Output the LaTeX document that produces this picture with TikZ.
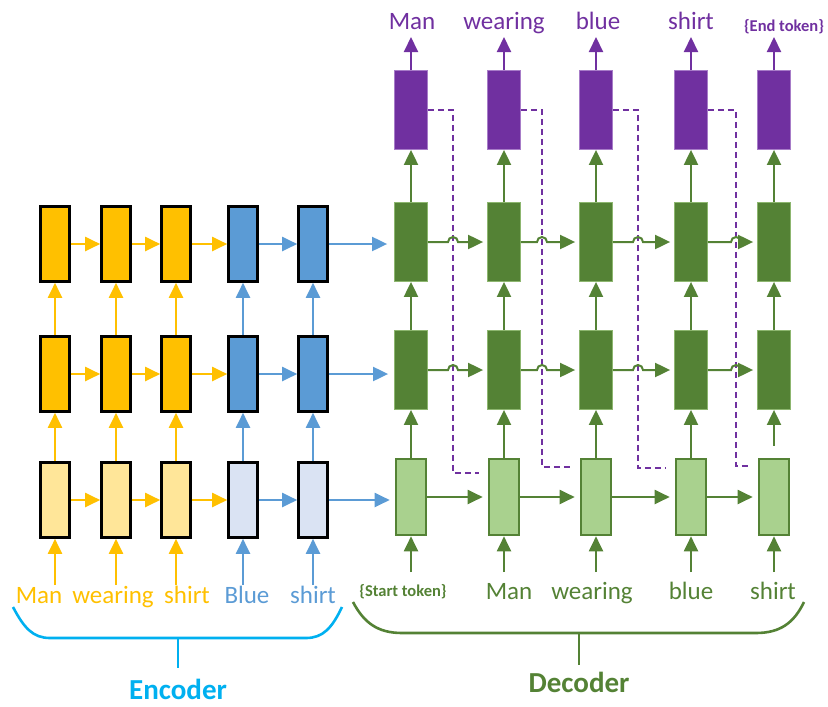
\documentclass[tikz,border=0pt]{standalone}
\usepackage{fontspec}
\setmainfont{Carlito}
\usetikzlibrary{arrows.meta,calc}
\definecolor{encY}{HTML}{FFC000}
\definecolor{encYl}{HTML}{FFE699}
\definecolor{encB}{HTML}{5B9BD5}
\definecolor{encBl}{HTML}{DAE3F3}
\definecolor{decG}{HTML}{548235}
\definecolor{decGl}{HTML}{A9D18E}
\definecolor{decGe}{HTML}{8DB66F}
\definecolor{outP}{HTML}{7030A0}
\definecolor{outPe}{HTML}{A77CC8}
\definecolor{brC}{HTML}{00B0F0}
\begin{document}
\begin{tikzpicture}[x=1pt,y=-1pt,
  encbox/.style={draw=black,line width=2.6pt,minimum width=29pt,minimum height=75pt,inner sep=0pt},
  decbox/.style={fill=decG,draw=decGe,line width=0.8pt,minimum width=33pt,minimum height=79pt,inner sep=0pt},
  decin/.style={fill=decGl,draw=decG,line width=2.6pt,minimum width=30pt,minimum height=76pt,inner sep=0pt},
  outbox/.style={fill=outP,draw=outPe,line width=0.8pt,minimum width=33pt,minimum height=79pt,inner sep=0pt},
  conn/.style={line width=2pt,-{Triangle[length=15pt,width=14pt]}},
  yarr/.style={conn,draw=encY},
  barr/.style={conn,draw=encB},
  garr/.style={conn,draw=decG},
  parr/.style={conn,draw=outP},
  pdash/.style={draw=outP,line width=1.8pt,dash pattern=on 6pt off 4pt},
  word/.style={anchor=base,inner sep=0pt,font=\fontsize{25}{30}\selectfont},
  token/.style={anchor=base,inner sep=0pt,font=\fontsize{16.5}{20}\selectfont\bfseries},
  title/.style={anchor=base,inner sep=0pt,font=\fontsize{29}{35}\selectfont\bfseries},
  brace/.style={line width=2.6pt}
]
\useasboundingbox (0,0) rectangle (828,707);

% ---------------- encoder ----------------
\foreach \r/\y in {t/244,m/374}{
  \foreach \c/\x in {1/55,2/116,3/176}
    \node[encbox,fill=encY] (e\r\c) at (\x,\y) {};
  \foreach \c/\x in {4/243,5/313}
    \node[encbox,fill=encB] (e\r\c) at (\x,\y) {};
}
\foreach \c/\x in {1/55,2/116,3/176}
  \node[encbox,fill=encYl] (eb\c) at (\x,500) {};
\foreach \c/\x in {4/243,5/313}
  \node[encbox,fill=encBl] (eb\c) at (\x,500) {};

% input words
\node[word,text=encY] (w1) at (39,603) {Man};
\node[word,text=encY] (w2) at (113,603) {wearing};
\node[word,text=encY] (w3) at (187,603) {shirt};
\node[word,text=encB] (w4) at (247,603) {Blue};
\node[word,text=encB] (w5) at (313,603) {shirt};
\foreach \c/\x in {1/55,2/116,3/176,4/243,5/313}
  \coordinate (ei\c) at (\x,585);

% recurrent and stacked connections
\foreach \r in {t,m,b}{
  \draw[yarr] (e\r1.east) -- (e\r2.west);
  \draw[yarr] (e\r2.east) -- (e\r3.west);
  \draw[yarr] (e\r3.east) -- (e\r4.west);
  \draw[barr] (e\r4.east) -- (e\r5.west);
}
\foreach \c in {1,2,3}{
  \draw[yarr] (ei\c) -- (eb\c.south);
  \draw[yarr] (eb\c.north) -- (em\c.south);
  \draw[yarr] (em\c.north) -- (et\c.south);
}
\foreach \c in {4,5}{
  \draw[barr] (ei\c) -- (eb\c.south);
  \draw[barr] (eb\c.north) -- (em\c.south);
  \draw[barr] (em\c.north) -- (et\c.south);
}

% ---------------- decoder ----------------
\foreach \c/\x in {1/411,2/504,3/596,4/691,5/774}{
  \node[outbox] (p\c) at (\x,110) {};
  \node[decbox] (dt\c) at (\x,242) {};
  \node[decbox] (dm\c) at (\x,370) {};
  \node[decin] (db\c) at (\x,497) {};
  \coordinate (di\c) at (\x,572);
  \coordinate (po\c) at (\x,37);
}

% hand-over from encoder to decoder
\draw[barr,shorten >=7pt] (et5.east) -- (et5.east -| dt1.west);
\draw[barr,shorten >=6pt] (em5.east) -- (em5.east -| dm1.west);
\draw[barr,shorten >=5pt] (eb5.east) -- (eb5.east -| db1.west);

% words fed to the decoder
\node[token,text=decG] (s0) at (403,596) {\{Start token\}};
\node[word,text=decG] (s1) at (509,599) {Man};
\node[word,text=decG] (s2) at (592,599) {wearing};
\node[word,text=decG] (s3) at (691,599) {blue};
\node[word,text=decG] (s4) at (773,599) {shirt};

% predicted words
\node[word,text=outP] (o1) at (412,29) {Man};
\node[word,text=outP] (o2) at (504,29) {wearing};
\node[word,text=outP] (o3) at (598,29) {blue};
\node[word,text=outP] (o4) at (691,29) {shirt};
\node[token,text=outP] (o5) at (784,31) {\{End token\}};

% feedback (dashed) lines: output i feeds input i+1
\coordinate (k1) at (453,473);
\coordinate (k2) at (542,467);
\coordinate (k3) at (638,468);
\coordinate (k4) at (736,466);
\foreach \i/\j in {1/2,2/3,3/4,4/5}
  \draw[pdash,shorten >=9pt] (p\i.east) -| (k\i) -- (k\i -| db\j.west);

% vertical decoder connections
\foreach \c in {1,2,3,4,5}{
  \draw[garr] (di\c) -- (db\c.south);
  \draw[garr] (dt\c.north) -- (p\c.south);
  \draw[parr] (p\c.north) -- (po\c);
}
\foreach \c in {1,2,3,4}
  \draw[garr] (db\c.north) -- (dm\c.south);
\draw[garr] ([yshift=12pt]db5.north) -- (dm5.south);
\foreach \c in {1,2,3,4,5}
  \draw[garr] (dm\c.north) -- (dt\c.south);

% recurrent decoder connections, hopping over the dashed lines
\foreach \i/\j in {1/2,2/3,3/4,4/5}{
  \draw[garr,shorten >=4pt] (dt\i.east) -- ([xshift=-5pt]dt\i.east -| k\i)
    arc[start angle=180,end angle=0,radius=5pt] -- (dt\j.west);
  \draw[garr,shorten >=4pt] (dm\i.east) -- ([xshift=-5pt]dm\i.east -| k\i)
    arc[start angle=180,end angle=0,radius=5pt] -- (dm\j.west);
  \draw[garr,shorten >=5pt] (db\i.east) -- (db\j.west);
}

% ---------------- braces ----------------
\draw[brace,draw=brC] (13,607) .. controls (24,628) and (33,638) .. (50,638)
  -- (306,638) .. controls (323,638) and (332,628) .. (342,607);
\draw[brace,draw=brC] (178,638) -- (178,668);
\node[title,text=brC] (enc) at (178,699) {Encoder};

\draw[brace,draw=decG] (353,602) .. controls (364,623) and (378,633) .. (402,633)
  -- (756,633) .. controls (780,633) and (794,623) .. (804,602);
\draw[brace,draw=decG] (579,633) -- (579,665);
\node[title,text=decG] (dec) at (579,692) {Decoder};
\end{tikzpicture}
\end{document}
